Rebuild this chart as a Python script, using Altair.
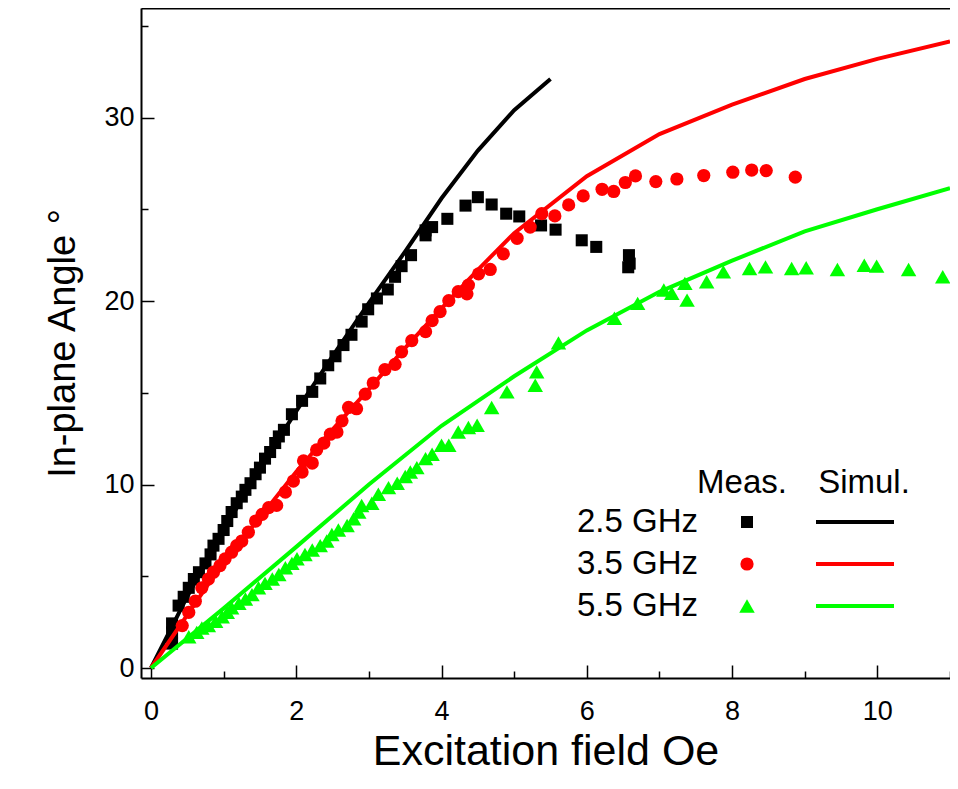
import altair as alt
import pandas as pd

# ---------------- data ----------------
meas25_x = [0.29, 0.29, 0.29, 0.38, 0.45, 0.52, 0.59, 0.66, 0.75, 0.82, 0.86, 0.93, 1.00, 1.05, 1.11, 1.18,
            1.25, 1.30, 1.37, 1.44, 1.50, 1.57, 1.64, 1.71, 1.76, 1.83, 1.94, 2.08, 2.22, 2.33, 2.44, 2.54,
            2.65, 2.76, 2.90, 2.99, 3.11, 3.26, 3.36, 3.45, 3.58, 3.78, 3.78, 3.87, 4.08, 4.33, 4.50, 4.69,
            4.89, 5.07, 5.37, 5.57, 5.93, 6.13, 6.58, 6.59, 6.57]
meas25_y = [1.33, 1.94, 2.43, 3.40, 3.88, 4.37, 4.85, 5.22, 5.70, 6.19, 6.67, 7.04, 7.52, 8.01, 8.50, 8.98,
            9.34, 9.71, 10.07, 10.56, 10.92, 11.41, 11.77, 12.26, 12.62, 12.98, 13.83, 14.56, 15.05, 15.78, 16.50, 16.99,
            17.60, 18.16, 18.88, 19.55, 20.14, 20.63, 21.32, 21.90, 22.50, 23.58, 23.85, 24.03, 24.48, 25.20, 25.66, 25.26,
            24.76, 24.61, 24.12, 23.89, 23.31, 22.95, 22.50, 22.04, 21.84]

meas35_x = [0.43, 0.52, 0.61, 0.70, 0.79, 0.86, 0.95, 1.02, 1.11, 1.18, 1.25, 1.34, 1.44, 1.53, 1.62, 1.73,
            1.85, 1.96, 2.08, 2.10, 2.22, 2.28, 2.38, 2.47, 2.56, 2.63, 2.72, 2.83, 2.95, 3.06, 3.22, 3.36,
            3.45, 3.59, 3.78, 3.87, 3.98, 4.10, 4.23, 4.35, 4.37, 4.51, 4.67, 4.85, 5.04, 5.22, 5.38, 5.56,
            5.75, 5.95, 6.21, 6.37, 6.53, 6.67, 6.95, 7.24, 7.61, 8.01, 8.27, 8.47, 8.87]
meas35_y = [2.31, 3.03, 3.64, 4.37, 4.85, 5.22, 5.58, 5.95, 6.31, 6.67, 6.92, 7.40, 8.01, 8.37, 8.74, 8.86,
            9.59, 10.19, 10.68, 11.29, 11.17, 11.89, 12.26, 12.74, 12.86, 13.47, 14.20, 14.13, 14.93, 15.53, 16.26, 16.55,
            17.23, 17.84, 18.33, 18.93, 19.42, 20.02, 20.51, 20.39, 20.87, 21.48, 21.72, 22.57, 23.42, 24.03, 24.76, 24.64,
            25.24, 25.73, 26.09, 25.97, 26.46, 26.82, 26.51, 26.65, 26.84, 27.02, 27.14, 27.11, 26.75]

meas55_x = [0.52, 0.63, 0.70, 0.79, 0.89, 0.98, 1.05, 1.11, 1.21, 1.30, 1.39, 1.48, 1.57, 1.67, 1.76, 1.85,
            1.94, 2.01, 2.12, 2.22, 2.33, 2.42, 2.49, 2.58, 2.70, 2.79, 2.86, 2.90, 3.04, 3.13, 3.27, 3.39,
            3.50, 3.57, 3.66, 3.78, 3.87, 4.00, 4.10, 4.23, 4.37, 4.49, 4.69, 4.90, 5.29, 5.31, 5.61, 6.38,
            6.70, 7.06, 7.17, 7.35, 7.38, 7.65, 7.88, 8.24, 8.46, 8.82, 9.02, 9.45, 9.82, 9.99, 10.43, 10.90]
meas55_y = [1.70, 1.94, 2.18, 2.31, 2.55, 2.79, 3.03, 3.28, 3.52, 3.76, 4.00, 4.37, 4.61, 4.85, 5.10, 5.46,
            5.70, 5.95, 6.19, 6.43, 6.67, 6.92, 7.28, 7.52, 7.77, 8.13, 8.50, 8.86, 8.98, 9.47, 9.83, 10.07,
            10.44, 10.68, 10.92, 11.41, 11.65, 12.14, 12.14, 12.86, 13.11, 13.23, 14.20, 15.05, 15.41, 16.14, 17.72, 19.06,
            19.87, 20.60, 20.42, 20.96, 20.05, 21.05, 21.59, 21.77, 21.86, 21.77, 21.81, 21.72, 21.95, 21.90, 21.72, 21.32]

sim25_x = [0, 0.5, 1.0, 1.5, 2.0, 2.5, 3.0, 3.5, 4.0, 4.5, 5.0, 5.5]
sim25_y = [0, 3.9, 7.5, 10.9, 14.0, 17.0, 19.9, 22.7, 25.6, 28.2, 30.4, 32.1]

sim35_x = [0, 0.5, 1.0, 1.5, 2.0, 2.5, 3.0, 3.5, 4.0, 4.5, 5.0, 6.0, 7.0, 8.0, 9.0, 10.0, 11.0]
sim35_y = [0, 2.9, 5.8, 8.2, 10.7, 13.0, 15.2, 17.45, 19.6, 21.7, 23.7, 26.8, 29.1, 30.7, 32.1, 33.2, 34.15]

sim55_x = [0, 1, 2, 3, 4, 5, 6, 7, 8, 9, 10, 11]
sim55_y = [0, 3.25, 6.6, 10.0, 13.2, 15.9, 18.4, 20.5, 22.2, 23.8, 25.0, 26.15]

freq_labels = ["2.5 GHz", "3.5 GHz", "5.5 GHz"]
series_colors = ["#000000", "#ff0000", "#00ff00"]
series_shapes = ["square", "circle", "triangle-up"]

x_major = [0, 2, 4, 6, 8, 10]
x_minor = [1, 3, 5, 7, 9, 11]
y_major = [0, 10, 20, 30]
y_minor = [5, 15, 25, 35]

# ---------------- layout ----------------
W, H = 809, 670
XDOM = [-0.1376, 11.0]
YDOM = [-0.545, 35.97]
FONT = "Liberation Sans"

xs = alt.Scale(domain=XDOM, nice=False, zero=False)
ys = alt.Scale(domain=YDOM, nice=False, zero=False)

ax_x_labels = alt.Axis(orient="bottom", values=x_major, ticks=False, domain=True, domainWidth=2,
                       domainColor="black", labelFontSize=27, labelFont=FONT, labelColor="black",
                       labelPadding=20, title="Excitation field Oe", titleFontSize=43, titleFont=FONT,
                       titleFontWeight="normal", titleColor="black", titlePadding=6, grid=False)
ax_y_labels = alt.Axis(orient="left", values=y_major, ticks=False, domain=True, domainWidth=2,
                       domainColor="black", labelFontSize=27, labelFont=FONT, labelColor="black",
                       labelPadding=7, title="In-plane Angle °", titleFontSize=38, titleFont=FONT,
                       titleFontWeight="normal", titleColor="black", titlePadding=21, grid=False)

def tick_axis(orient, vals, size, offset):
    return alt.Axis(orient=orient, values=vals, ticks=True, tickSize=size, tickWidth=1.5,
                    tickColor="black", labels=False, domain=False, title=None, grid=False,
                    offset=offset)

top_frame = alt.Axis(orient="top", ticks=False, labels=False, domain=True, domainWidth=2,
                     domainColor="black", title=None, grid=False)

meas = [(meas25_x, meas25_y), (meas35_x, meas35_y), (meas55_x, meas55_y)]
sims = [(sim25_x, sim25_y), (sim35_x, sim35_y), (sim55_x, sim55_y)]
sizes = [145, 175, 240]

axes_for_points = [
    (ax_x_labels, ax_y_labels),
    (tick_axis("top", x_major, 13, -H), tick_axis("right", y_major, 13, -W)),
    (tick_axis("top", x_minor, 7, -H), tick_axis("right", y_minor, 7, -W)),
]

layers = []
for i, ((mx, my), (xa, ya)) in enumerate(zip(meas, axes_for_points)):
    df = pd.DataFrame({"x": mx, "y": my})
    layers.append(
        alt.Chart(df).mark_point(shape=series_shapes[i], filled=True, opacity=1,
                                 color=series_colors[i], size=sizes[i], strokeWidth=0)
        .encode(x=alt.X("x:Q", scale=xs, axis=xa), y=alt.Y("y:Q", scale=ys, axis=ya))
    )

for i, (sx, sy) in enumerate(sims):
    df = pd.DataFrame({"x": sx, "y": sy})
    xa = top_frame if i == 0 else None
    layers.append(
        alt.Chart(df).mark_line(color=series_colors[i], strokeWidth=4)
        .encode(x=alt.X("x:Q", scale=xs, axis=xa), y=alt.Y("y:Q", scale=ys, axis=None))
    )

# ---------------- in-plot legend ----------------
one = pd.DataFrame({"a": [0]})
LEG_FS = 33
layers.append(alt.Chart(one).mark_text(text="Meas.", font=FONT, fontSize=LEG_FS, align="center",
                                       baseline="alphabetic", color="black")
              .encode(x=alt.value(601), y=alt.value(485)))
layers.append(alt.Chart(one).mark_text(text="Simul.", font=FONT, fontSize=LEG_FS, align="center",
                                       baseline="alphabetic", color="black")
              .encode(x=alt.value(723), y=alt.value(485)))
row_y = [514, 556, 598]
for i in range(3):
    layers.append(alt.Chart(one).mark_text(text=freq_labels[i], font=FONT, fontSize=LEG_FS, align="left",
                                           baseline="middle", color="black")
                  .encode(x=alt.value(436), y=alt.value(row_y[i])))
    layers.append(alt.Chart(one).mark_point(shape=series_shapes[i], filled=True, opacity=1,
                                            color=series_colors[i], size=sizes[i], strokeWidth=0)
                  .encode(x=alt.value(606), y=alt.value(row_y[i])))
    layers.append(alt.Chart(one).mark_rule(color=series_colors[i], strokeWidth=4)
                  .encode(x=alt.value(675), x2=alt.value(753), y=alt.value(row_y[i])))

chart = (
    alt.layer(*layers)
    .resolve_axis(x="independent", y="independent")
    .properties(width=W, height=H,
                autosize=alt.AutoSizeParams(type="none"),
                padding={"left": 133, "top": 0, "right": 0, "bottom": 100},
                background="white")
    .configure_view(stroke=None)
)

chart.save("out.html", embed_options={"renderer": "svg", "actions": False})
